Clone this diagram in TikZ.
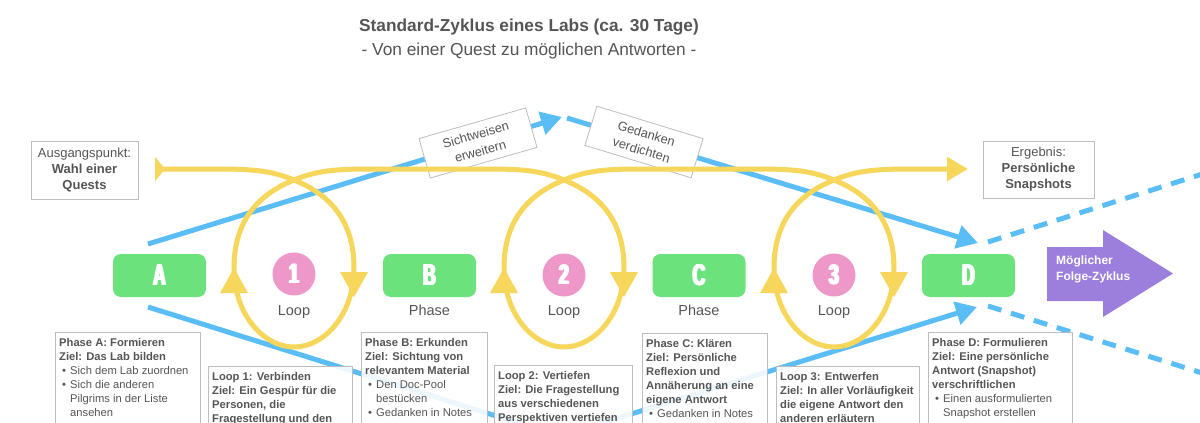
\documentclass[tikz,border=0pt]{standalone}
\usepackage{fontspec}
\setmainfont{Liberation Sans}
\usepackage{graphicx}
\usetikzlibrary{arrows.meta}
\definecolor{tgray}{HTML}{555555}
\definecolor{bgray}{HTML}{BDBDBD}
\definecolor{pgreen}{HTML}{6BE27C}
\definecolor{lpink}{HTML}{EE98C9}
\definecolor{lblue}{HTML}{5BBDF5}
\definecolor{lyellow}{HTML}{F7D65C}
\definecolor{lpurple}{HTML}{9C7EDC}
\newcommand\bul{\hspace*{3pt}\makebox[8pt][l]{•}}
\newcommand\ind{\hspace*{11pt}}
\newcommand\thickstack[1]{\makebox[0pt][l]{#1}\hspace*{1pt}\makebox[0pt][l]{#1}\hspace*{1pt}\makebox[0pt][l]{#1}\hspace*{1pt}\makebox[0pt][l]{#1}\hspace*{1pt}#1}
\newcommand\bigletter[1]{{\fontsize{30}{30}\selectfont\bfseries\scalebox{0.58}[1]{\thickstack{#1}}}}
\newcommand\bignum[1]{{\fontsize{28}{28}\selectfont\bfseries\scalebox{0.62}[1]{\thickstack{#1}}}}
\begin{document}
\begin{tikzpicture}[x=1pt,y=-1pt,
  phasebox/.style={fill=pgreen, rounded corners=8pt, minimum width=93pt, minimum height=43pt, inner sep=0pt, text=white},
  loopcirc/.style={circle, fill=lpink, minimum size=43pt, inner sep=0pt, text=white},
  sublabel/.style={anchor=base, text=tgray, font=\fontsize{14.5}{16}\selectfont},
  yel/.style={draw=lyellow, line width=5pt},
  yeltip/.style={fill=lyellow},
  blu/.style={draw=lblue, line width=5pt},
  bluetip/.style={-{Triangle[length=21pt,width=23pt]}},
  tframe/.style={draw=bgray, line width=0.8pt, fill=white, fill opacity=0.88},
  ttext/.style={anchor=north west, align=left, inner xsep=4pt, inner ysep=6.5pt, text=tgray, font=\fontsize{11.2}{14}\selectfont},
  sidebox/.style={draw=bgray, line width=0.8pt, fill=white, align=center, text=tgray, font=\fontsize{13}{16}\selectfont, inner sep=0pt},
  rotbox/.style={draw=bgray, line width=0.8pt, fill=white, align=center, text=tgray, font=\fontsize{12.8}{17}\selectfont, inner sep=0pt, minimum width=111pt, minimum height=41pt},
]
\useasboundingbox (0,0) rectangle (1200,423);
\clip (0,0) rectangle (1200,423);
\fill[white] (0,0) rectangle (1200,423);

% title
\node[anchor=base, text=tgray, font=\fontsize{17.3}{20}\selectfont\bfseries] (title) at (529,31) {Standard-Zyklus eines Labs (ca. 30 Tage)};
\node[anchor=base, text=tgray, font=\fontsize{17.3}{20}\selectfont] (subtitle) at (529,55) {- Von einer Quest zu möglichen Antworten -};

% blue paths
\coordinate (u1) at (148,244);
\coordinate (u2) at (562,117);
\coordinate (u3) at (567,118);
\coordinate (u4) at (978,243);
\coordinate (l1) at (148,307);
\coordinate (lv) at (560,436);
\coordinate (l2) at (977,307);
\coordinate (d1) at (988,242);
\coordinate (d2) at (1215,170);
\coordinate (d3) at (988,306);
\coordinate (d4) at (1215,377);
\draw[blu, bluetip] (u1) -- (u2);
\draw[blu, bluetip] (u3) -- (u4);
\draw[blu, bluetip] (l1) -- (lv) -- (l2);
\draw[blu, dash pattern=on 14pt off 10pt] (d1) -- (d2);
\draw[blu, dash pattern=on 14pt off 10pt] (d3) -- (d4);

% text boxes
\path[tframe] (55,332) rectangle (200,440);
\node[ttext] (pa) at (55,332) {\textbf{Phase A: Formieren}\\ \textbf{Ziel: Das Lab bilden}\\ \bul Sich dem Lab zuordnen\\ \bul Sich die anderen\\ \ind Pilgrims in der Liste\\ \ind ansehen};
\path[tframe] (208,366) rectangle (352,440);
\node[ttext] (l1t) at (208,366) {\textbf{Loop 1: Verbinden}\\ \textbf{Ziel: Ein Gespür für die}\\ \textbf{Personen, die}\\ \textbf{Fragestellung und den}};
\path[tframe] (361,332) rectangle (487,440);
\node[ttext] (pb) at (361,332) {\textbf{Phase B: Erkunden}\\ \textbf{Ziel: Sichtung von}\\ \textbf{relevantem Material}\\ \bul Den Doc-Pool\\ \ind bestücken\\ \bul Gedanken in Notes};
\path[tframe] (494,365) rectangle (632,440);
\node[ttext] (l2t) at (494,365) {\textbf{Loop 2: Vertiefen}\\ \textbf{Ziel: Die Fragestellung}\\ \textbf{aus verschiedenen}\\ \textbf{Perspektiven vertiefen}};
\path[tframe] (642,333) rectangle (767,440);
\node[ttext] (pc) at (642,333) {\textbf{Phase C: Klären}\\ \textbf{Ziel: Persönliche}\\ \textbf{Reflexion und}\\ \textbf{Annäherung an eine}\\ \textbf{eigene Antwort}\\ \bul Gedanken in Notes};
\path[tframe] (776,366) rectangle (919,440);
\node[ttext] (l3t) at (776,366) {\textbf{Loop 3: Entwerfen}\\ \textbf{Ziel: In aller Vorläufigkeit}\\ \textbf{die eigene Antwort den}\\ \textbf{anderen erläutern}};
\path[tframe] (928,332) rectangle (1072,440);
\node[ttext] (pd) at (928,332) {\textbf{Phase D: Formulieren}\\ \textbf{Ziel: Eine persönliche}\\ \textbf{Antwort (Snapshot)}\\ \textbf{verschriftlichen}\\ \bul Einen ausformulierten\\ \ind Snapshot erstellen};

% rotated labels
\node[rotbox, rotate=16] (sw) at (478,143) {Sichtweisen\\erweitern};
\node[rotbox, rotate=-17] (gd) at (644,142) {Gedanken\\verdichten};

% yellow path
\draw[yel, {Triangle[reversed,length=10pt,width=24pt]}-{Triangle[length=21pt,width=23pt]}]
  (155,169) -- (219,169)
  .. controls (259,169) and (274,172) .. (294,180)
  .. controls (334,196) and (354,225) .. (354,268)
  .. controls (354,315) and (324,347) .. (294,347)
  .. controls (264,347) and (234,315) .. (234,268)
  .. controls (234,225) and (254,196) .. (294,180)
  .. controls (314,172) and (329,169) .. (369,169)
  -- (489,169)
  .. controls (529,169) and (544,172) .. (564,180)
  .. controls (604,196) and (624,225) .. (624,268)
  .. controls (624,315) and (594,347) .. (564,347)
  .. controls (534,347) and (504,315) .. (504,268)
  .. controls (504,225) and (524,196) .. (564,180)
  .. controls (584,172) and (599,169) .. (639,169)
  -- (759,169)
  .. controls (799,169) and (814,172) .. (834,180)
  .. controls (874,196) and (894,225) .. (894,268)
  .. controls (894,315) and (864,347) .. (834,347)
  .. controls (804,347) and (774,315) .. (774,268)
  .. controls (774,225) and (794,196) .. (834,180)
  .. controls (854,172) and (869,169) .. (909,169)
  -- (968,169);
\foreach \c in {294,564,834} {
  \fill[yeltip] (\c+46,272) -- (\c+74,272) -- (\c+60,297) -- cycle;
  \fill[yeltip] (\c-74,293) -- (\c-46,293) -- (\c-60,268) -- cycle;
}

% phases
\node[phasebox] (A) at (159.5,275.5) {\bigletter{A}};
\node[phasebox] (B) at (429.5,275.5) {\bigletter{B}};
\node[phasebox] (C) at (699,275.5) {\bigletter{C}};
\node[phasebox] (D) at (968.5,275.5) {\bigletter{D}};
\node[sublabel] (Bl) at (429.5,315) {Phase};
\node[sublabel] (Cl) at (699,315) {Phase};

% loops
\node[loopcirc] (L1) at (294,274) {\bignum{1}};
\node[loopcirc] (L2) at (564,275) {\bignum{2}};
\node[loopcirc] (L3) at (834,275) {\bignum{3}};
\node[sublabel] (L1l) at (294,315) {Loop};
\node[sublabel] (L2l) at (564,315) {Loop};
\node[sublabel] (L3l) at (834,315) {Loop};

% side boxes
\node[sidebox, minimum width=107pt, minimum height=58pt] (start) at (84.5,170) {Ausgangspunkt:\\\textbf{Wahl einer}\\\textbf{Quests}};
\node[sidebox, minimum width=111pt, minimum height=57pt] (result) at (1038.5,169.5) {Ergebnis:\\\textbf{Persönliche}\\\textbf{Snapshots}};

% purple arrow
\fill[lpurple] (1047,247) -- (1103,247) -- (1103,230) -- (1173,273.5) -- (1103,317) -- (1103,301) -- (1047,301) -- cycle;
\node[anchor=north west, align=left, text=white, inner sep=0pt, font=\fontsize{12}{16}\selectfont\bfseries] (next) at (1056,256) {Möglicher\\Folge-Zyklus};
\end{tikzpicture}
\end{document}
